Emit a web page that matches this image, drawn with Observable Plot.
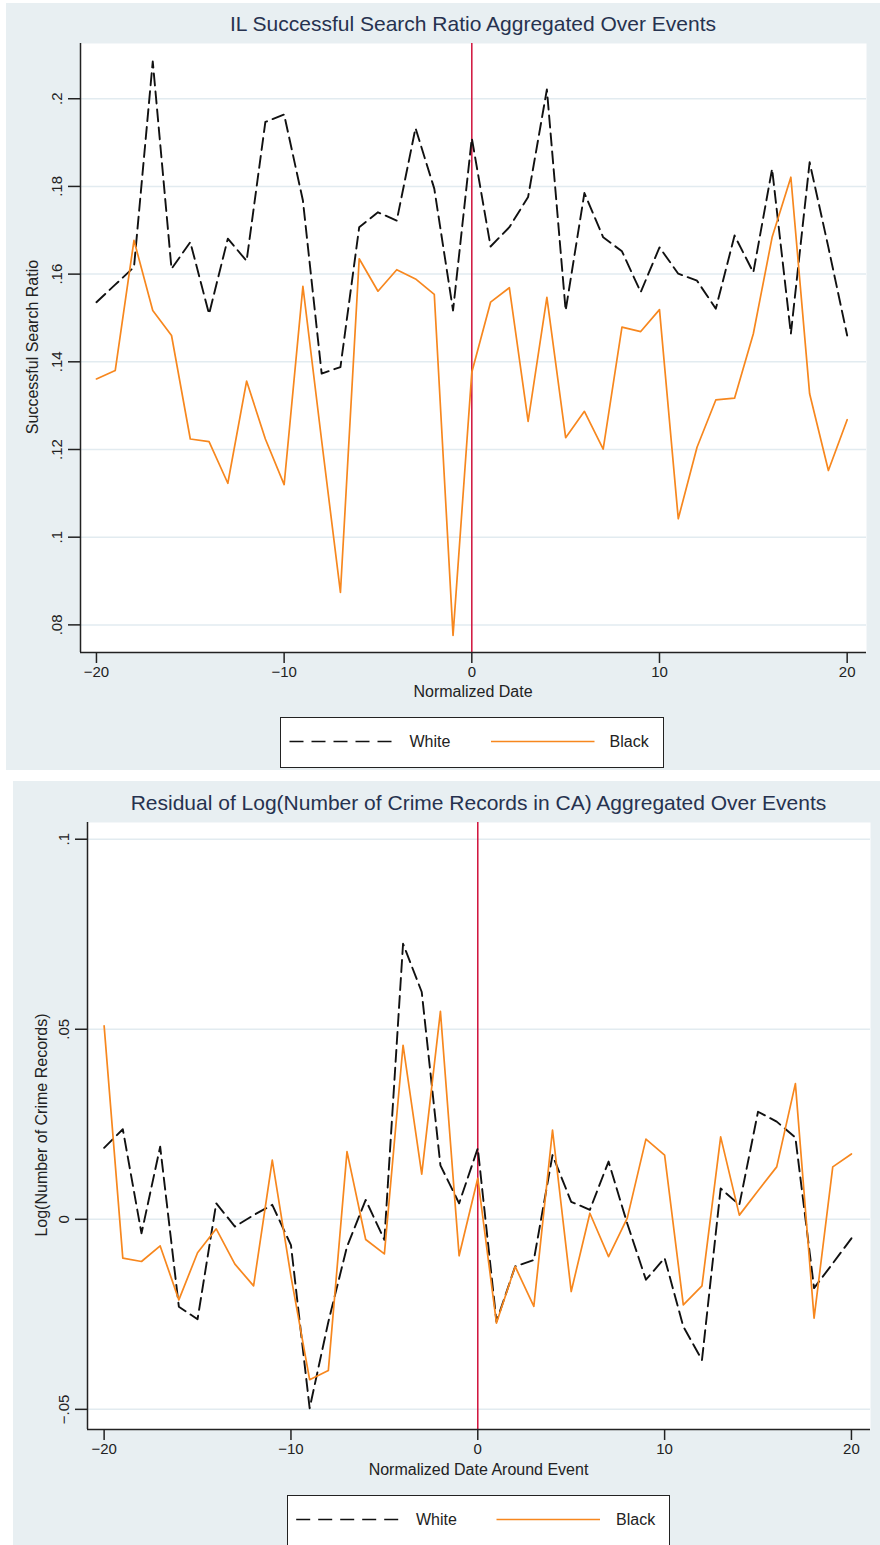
<!DOCTYPE html>
<html>
<head>
<meta charset="utf-8">
<script src="https://cdn.jsdelivr.net/npm/d3@7"></script>
<script src="https://cdn.jsdelivr.net/npm/@observablehq/plot@0.6"></script>
<style>
  body { margin: 0; background: #fff; font-family: "Liberation Sans", Arial, sans-serif; }
  #root { position: relative; width: 880px; height: 1545px; overflow: hidden; }
  .panel { position: absolute; background: #e8eff2; }
  .title { position: absolute; text-align: center; color: #26324f; font-size: 21px; line-height: 26px; white-space: nowrap; }
  .xlab { position: absolute; text-align: center; color: #222; font-size: 16px; line-height: 18px; white-space: nowrap; }
  .ylab { position: absolute; color: #222; font-size: 16px; line-height: 18px; white-space: nowrap; transform: translate(-50%, -50%) rotate(-90deg); }
  .chart { position: absolute; }
  .legend { position: absolute; background: #fff; border: 1.5px solid #222; box-sizing: border-box; }
  .legend svg { display: block; }
</style>
</head>
<body>
<div id="root"></div>
<script>
// ---------- data ----------
const days = [-20,-19,-18,-17,-16,-15,-14,-13,-12,-11,-10,-9,-8,-7,-6,-5,-4,-3,-2,-1,0,1,2,3,4,5,6,7,8,9,10,11,12,13,14,15,16,17,18,19,20];
const seriesNames = ["White", "Black"];

// IL Successful Search Ratio
const ilWhite = [0.1536,0.1576,0.1616,0.2085,0.1612,0.1673,0.1509,0.1681,0.1630,0.1947,0.1964,0.1768,0.1373,0.1388,0.1707,0.1741,0.1722,0.1933,0.1795,0.1517,0.1910,
                 0.1663,0.1707,0.1776,0.2021,0.1517,0.1785,0.1684,0.1652,0.1559,0.1661,0.1601,0.1585,0.1521,0.1688,0.1604,0.1840,0.1464,0.1855,0.1661,0.1460];
const ilBlack = [0.1361,0.1380,0.1677,0.1517,0.1460,0.1224,0.1218,0.1123,0.1356,0.1224,0.1120,0.1572,0.1220,0.0874,0.1635,0.1561,0.1610,0.1589,0.1554,0.0776,0.1376,
                 0.1536,0.1569,0.1264,0.1547,0.1227,0.1287,0.1201,0.1479,0.1469,0.1519,0.1042,0.1205,0.1313,0.1317,0.1464,0.1684,0.1821,0.1327,0.1152,0.1268];

// Residual of Log(Number of Crime Records in CA)
const caWhite = [0.0188,0.0237,-0.0037,0.0191,-0.0230,-0.0263,0.0042,-0.0019,0.0011,0.0038,-0.0068,-0.0497,-0.0270,-0.0072,0.0051,-0.0054,0.0725,0.0598,0.0142,0.0042,0.0187,
                 -0.0269,-0.0124,-0.0107,0.0169,0.0046,0.0025,0.0152,-0.0011,-0.0159,-0.0102,-0.0282,-0.0370,0.0081,0.0038,0.0283,0.0257,0.0215,-0.0181,-0.0116,-0.0050];
const caBlack = [0.0509,-0.0102,-0.0111,-0.0070,-0.0212,-0.0088,-0.0025,-0.0118,-0.0175,0.0156,-0.0150,-0.0422,-0.0398,0.0178,-0.0053,-0.0091,0.0458,0.0119,0.0547,-0.0096,0.0108,
                 -0.0273,-0.0124,-0.0229,0.0235,-0.0190,0.0016,-0.0098,0.0003,0.0211,0.0169,-0.0225,-0.0175,0.0217,0.0011,0.0075,0.0138,0.0357,-0.0260,0.0138,0.0172];

const xTicks = [-20, -10, 0, 10, 20];
const ilYTicks = [0.08, 0.10, 0.12, 0.14, 0.16, 0.18, 0.20];
const caYTicks = [-0.05, 0, 0.05, 0.10];
const eventDay = [0];

// ---------- styling ----------
const FONT = '"Liberation Sans", Arial, sans-serif';
const WHITE_COLOR = "#111";
const BLACK_COLOR = "#f7871e";
const EVENT_COLOR = "#d0103a";
const GRID_COLOR = "#e2ebf0";
const AXIS_COLOR = "#222";

function stataNum(d) {
  let s = String(+(+d).toFixed(3));
  if (s.startsWith("0.")) s = s.slice(1);
  else if (s.startsWith("-0.")) s = "\u2212" + s.slice(2);
  else if (s.startsWith("-")) s = "\u2212" + s.slice(1);
  return s;
}

function tidy(white, black) {
  const rows = [];
  days.forEach((d, i) => rows.push({day: d, value: white[i], group: seriesNames[0]}));
  days.forEach((d, i) => rows.push({day: d, value: black[i], group: seriesNames[1]}));
  return rows;
}

function makeChart(cfg) {
  const rows = tidy(cfg.white, cfg.black);
  return Plot.plot({
    width: 880,
    height: cfg.height,
    marginLeft: cfg.marginLeft,
    marginRight: cfg.marginRight,
    marginTop: cfg.marginTop,
    marginBottom: cfg.marginBottom,
    style: {fontFamily: FONT, fontSize: "15px", background: "transparent", color: "#222", overflow: "visible"},
    x: {domain: cfg.xDomain, label: null},
    y: {domain: cfg.yDomain, label: null},
    marks: [
      Plot.frame({fill: "white", stroke: "none"}),
      Plot.gridY(cfg.yTicks, {stroke: GRID_COLOR, strokeOpacity: 1, strokeWidth: 1.5}),
      Plot.ruleX(eventDay, {stroke: EVENT_COLOR, strokeWidth: 1.5}),
      Plot.line(rows.filter(r => r.group === "White"), {x: "day", y: "value", stroke: WHITE_COLOR, strokeWidth: 1.9, strokeDasharray: "12,6"}),
      Plot.line(rows.filter(r => r.group === "Black"), {x: "day", y: "value", stroke: BLACK_COLOR, strokeWidth: 1.7}),
      Plot.ruleX([cfg.xDomain[0]], {stroke: AXIS_COLOR, strokeWidth: 1.5}),
      Plot.ruleY([cfg.yDomain[0]], {stroke: AXIS_COLOR, strokeWidth: 1.5}),
      Plot.axisX(xTicks, {tickSize: 11, tickPadding: 3, stroke: AXIS_COLOR, strokeWidth: 1.5, fill: "#222", label: null}),
      Plot.axisY(cfg.yTicks, {tickSize: 12, tickPadding: 7, tickRotate: -90, tickFormat: stataNum, stroke: AXIS_COLOR, strokeWidth: 1.5, fill: "#222", label: null})
    ]
  });
}

function el(cls, style, text) {
  const d = document.createElement("div");
  d.className = cls;
  Object.assign(d.style, style);
  if (text != null) d.textContent = text;
  return d;
}

function legendBox(left, top, width, height, ly, geo) {
  const box = el("legend", {left: left + "px", top: top + "px", width: width + "px", height: height + "px"});
  const svgNS = "http://www.w3.org/2000/svg";
  const svg = document.createElementNS(svgNS, "svg");
  svg.setAttribute("width", width - 3);
  svg.setAttribute("height", height - 3);
  const items = [
    {name: seriesNames[0], color: WHITE_COLOR, dash: "14,8", x1: geo[0], x2: geo[1], tx: geo[2]},
    {name: seriesNames[1], color: BLACK_COLOR, dash: null, x1: geo[3], x2: geo[4], tx: geo[5]}
  ];
  for (const it of items) {
    const ln = document.createElementNS(svgNS, "line");
    ln.setAttribute("x1", it.x1); ln.setAttribute("x2", it.x2);
    ln.setAttribute("y1", ly); ln.setAttribute("y2", ly);
    ln.setAttribute("stroke", it.color); ln.setAttribute("stroke-width", 1.7);
    if (it.dash) ln.setAttribute("stroke-dasharray", it.dash);
    svg.appendChild(ln);
    const t = document.createElementNS(svgNS, "text");
    t.setAttribute("x", it.tx); t.setAttribute("y", ly);
    t.setAttribute("dy", "0.35em");
    t.setAttribute("font-family", FONT); t.setAttribute("font-size", "16px");
    t.setAttribute("fill", "#222");
    t.textContent = it.name;
    svg.appendChild(t);
  }
  box.appendChild(svg);
  return box;
}

const root = document.getElementById("root");

// ---------- top panel ----------
root.appendChild(el("panel", {left: "6px", top: "3px", width: "874px", height: "767px"}));
root.appendChild(el("title", {left: "80px", width: "786px", top: "11px"}, "IL Successful Search Ratio Aggregated Over Events"));
const top1 = makeChart({
  white: ilWhite, black: ilBlack, yTicks: ilYTicks,
  height: 660, marginTop: 8, marginBottom: 43, marginLeft: 80, marginRight: 14,
  xDomain: [-20.85, 21.03], yDomain: [0.0737, 0.2126]
});
const c1 = el("chart", {left: "0px", top: "35px"});
c1.appendChild(top1);
root.appendChild(c1);
root.appendChild(el("xlab", {left: "80px", width: "786px", top: "683px"}, "Normalized Date"));
root.appendChild(el("ylab", {left: "33px", top: "347px"}, "Successful Search Ratio"));
root.appendChild(legendBox(280, 717, 384, 51, 23.5, [8.5, 113.5, 128.5, 210, 313.5, 328.5]));

// ---------- bottom panel ----------
root.appendChild(el("panel", {left: "13px", top: "781px", width: "867px", height: "764px"}));
root.appendChild(el("title", {left: "87px", width: "783px", top: "790px"}, "Residual of Log(Number of Crime Records in CA) Aggregated Over Events"));
const bot = makeChart({
  white: caWhite, black: caBlack, yTicks: caYTicks,
  height: 660, marginTop: 10, marginBottom: 43, marginLeft: 87, marginRight: 10,
  xDomain: [-20.89, 21.02], yDomain: [-0.0553, 0.1044]
});
const c2 = el("chart", {left: "0px", top: "812px"});
c2.appendChild(bot);
root.appendChild(c2);
root.appendChild(el("xlab", {left: "87px", width: "783px", top: "1461px"}, "Normalized Date Around Event"));
root.appendChild(el("ylab", {left: "42px", top: "1125px"}, "Log(Number of Crime Records)"));
root.appendChild(legendBox(287, 1495, 383, 62, 23.5, [8.2, 111.5, 128, 208.5, 312, 328]));
</script>
</body>
</html>
